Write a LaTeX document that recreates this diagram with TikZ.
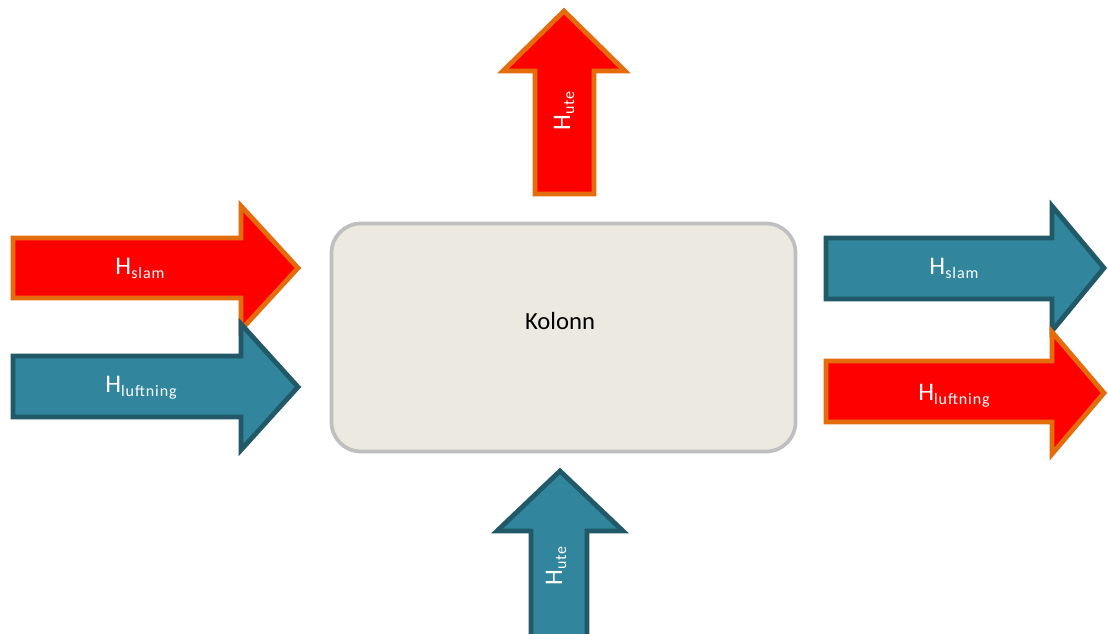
\documentclass[tikz,border=0pt]{standalone}
\usepackage{fontspec}
\setmainfont{Carlito}
\newfontfamily\subfont[LetterSpace=6]{Carlito}

\definecolor{arrowred}{RGB}{255,0,0}
\definecolor{arroworange}{RGB}{228,108,10}
\definecolor{arrowblue}{RGB}{49,133,156}
\definecolor{arrowteal}{RGB}{33,89,104}
\definecolor{boxfill}{RGB}{236,234,224}
\definecolor{boxline}{RGB}{191,191,191}

\newcommand{\Hsub}[1]{H\raisebox{-3pt}{\fontsize{12}{13}\subfont #1}}

\tikzset{every picture/.style={line width=0.75pt}}
\tikzset{
	redarrow/.style={draw=arroworange, fill=arrowred, line width=3.6pt, line join=miter},
	bluearrow/.style={draw=arrowteal, fill=arrowblue, line width=3.6pt, line join=miter},
	kolonnbox/.style={draw=boxline, fill=boxfill, line width=2.8pt, rounded corners=22pt},
	flowlabel/.style={text=white, inner sep=0pt, font=\fontsize{19}{22}\selectfont}
}

\begin{document}
\begin{tikzpicture}[x=0.75pt,y=0.75pt,yscale=-1,xscale=1]
	\clip (0,0) rectangle (1108,634);

	%Shape: Rounded Rect (Kolonn)
	\draw [kolonnbox] (331.5,223.5) rectangle (795.5,451.5) ;

	%Shape: Right Arrow (in, red)
	\draw [redarrow] (13,238) -- (241,238) -- (241,206) -- (298,268) -- (241,330) -- (241,298) -- (13,298) -- cycle ;
	%Shape: Right Arrow (in, blue)
	\draw [bluearrow] (13,356) -- (241,356) -- (241,324) -- (298,387) -- (241,450) -- (241,417) -- (13,417) -- cycle ;
	%Shape: Right Arrow (out, blue)
	\draw [bluearrow] (826,238) -- (1052,238) -- (1052,206) -- (1104,268) -- (1052,331) -- (1052,299) -- (826,299) -- cycle ;
	%Shape: Right Arrow (out, red)
	\draw [redarrow] (826,361) -- (1052,361) -- (1052,332) -- (1104,393) -- (1052,454) -- (1052,422) -- (826,422) -- cycle ;
	%Shape: Up Arrow (top, red)
	\draw [redarrow] (535,194) -- (535,71) -- (503,71) -- (564,11) -- (625,71) -- (594,71) -- (594,194) -- cycle ;
	%Shape: Up Arrow (bottom, blue)
	\draw [bluearrow] (531,640) -- (531,531) -- (497,531) -- (560,471) -- (623,531) -- (587,531) -- (587,640) -- cycle ;

	% Text Node
	\draw (560,321) node (kolonn) [inner sep=0pt, font=\fontsize{18.5}{22}\selectfont] {Kolonn};
	% Text Node
	\draw (140,268) node (slamin) [flowlabel] {\Hsub{slam}};
	% Text Node
	\draw (141,388) node (luftin) [flowlabel] {\Hsub{luftning}};
	% Text Node
	\draw (954,268) node (slamout) [flowlabel] {\Hsub{slam}};
	% Text Node
	\draw (954,396) node (luftout) [flowlabel] {\Hsub{luftning}};
	% Text Node
	\draw (564,111) node (uteout) [flowlabel, rotate=90] {\Hsub{ute}};
	% Text Node
	\draw (556,566) node (utein) [flowlabel, rotate=90] {\Hsub{ute}};

\end{tikzpicture}
\end{document}
